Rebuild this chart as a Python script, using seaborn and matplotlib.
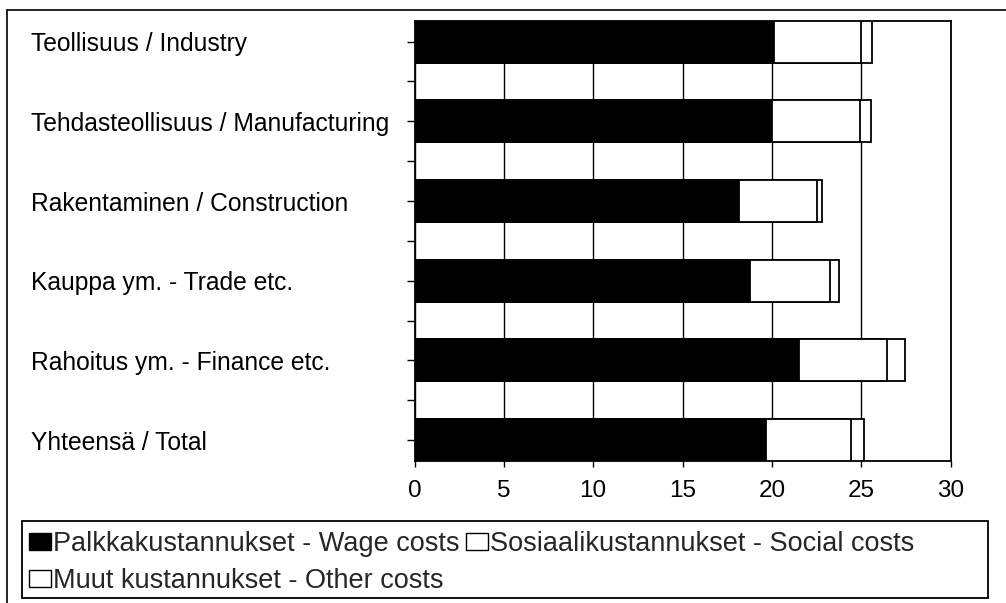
import matplotlib
matplotlib.use("Agg")
import matplotlib.pyplot as plt
from matplotlib.patches import Patch, Rectangle
from matplotlib.lines import Line2D
from matplotlib.ticker import FixedLocator
import seaborn as sns
import pandas as pd
import numpy as np

categories = ["Teollisuus / Industry",
              "Tehdasteollisuus / Manufacturing",
              "Rakentaminen / Construction",
              "Kauppa ym. - Trade etc.",
              "Rahoitus ym. - Finance etc.",
              "Yhteensä / Total"]
wage = [20.1, 20.0, 18.15, 18.75, 21.5, 19.7]
social = [4.9, 4.95, 4.35, 4.5, 4.95, 4.75]
other = [0.6, 0.6, 0.3, 0.5, 1.0, 0.7]
series_labels = ["Palkkakustannukset - Wage costs",
                 "Sosiaalikustannukset - Social costs",
                 "Muut kustannukset - Other costs"]
xticks = [0, 5, 10, 15, 20, 25, 30]

sns.set_style("white")
plt.rcParams["font.family"] = ["Liberation Sans", "DejaVu Sans"]

df = pd.DataFrame({"cat": categories, "wage": wage, "social": social, "other": other})
df["ws"] = df["wage"] + df["social"]
df["total"] = df["ws"] + df["other"]

W, H = 1006, 603
fig = plt.figure(figsize=(W / 100, H / 100), dpi=100)
ax = fig.add_axes([414.5 / W, 1 - 461 / H, (950.5 - 414.5) / W, (461 - 20.7) / H])

bw = 0.525
common = dict(y="cat", orient="h", width=bw, edgecolor="black", linewidth=1.3,
              saturation=1, ax=ax, zorder=3)
sns.barplot(data=df, x="total", color="white", **common)
sns.barplot(data=df, x="ws", color="white", **common)
sns.barplot(data=df, x="wage", color="black", **common)

ax.set_xlabel("")
ax.set_ylabel("")
ax.set_xlim(0, 30)
ax.set_ylim(len(categories) - 1 + bw / 2, -bw / 2)
ax.set_xticks(xticks)
ax.set_xticklabels([str(t) for t in xticks], fontsize=17.5)
ax.xaxis.grid(True, color="black", linewidth=1.0, zorder=0)
ax.yaxis.grid(False)
ax.set_axisbelow(True)

for s in ax.spines.values():
    s.set_color("black")
    s.set_linewidth(1.3)
    s.set_visible(True)

ax.set_yticks(range(len(categories)))
ax.yaxis.set_minor_locator(FixedLocator(np.arange(0.5, len(categories) - 1, 1.0)))
ax.tick_params(axis="y", which="both", direction="out", length=6, width=1,
               color="black", left=True)
ax.tick_params(axis="x", direction="out", length=4.5, width=1, color="black",
               bottom=True, pad=9.5, labelcolor="black")
ax.set_yticklabels(categories, fontsize=17.7, color="black")
ticklen_px = 6 / 72 * 100
pad_pt = (414.5 - ticklen_px - 31) * 0.72
ax.tick_params(axis="y", pad=pad_pt)
for lbl in ax.get_yticklabels():
    lbl.set_horizontalalignment("left")

# page frame lines
fig.add_artist(Line2D([7 / W, 1.0], [1 - 10 / H, 1 - 10 / H], transform=fig.transFigure,
                      color="black", linewidth=1.2))
fig.add_artist(Line2D([7 / W, 7 / W], [0, 1 - 10 / H], transform=fig.transFigure,
                      color="black", linewidth=1.2))

# legend box
fig.add_artist(Rectangle((22 / W, 1 - 598 / H), (988 - 22) / W, (598 - 521) / H,
                         transform=fig.transFigure, facecolor="none",
                         edgecolor="black", linewidth=1.3))

handles = [Patch(facecolor="black", edgecolor="black", label=series_labels[0]),
           Patch(facecolor="white", edgecolor="black", label=series_labels[2]),
           Patch(facecolor="white", edgecolor="black", label=series_labels[1])]
fig.legend(handles=handles, loc="upper left", bbox_to_anchor=(29 / W, 1 - 531 / H),
           ncol=2, frameon=False, fontsize=19.5, handlelength=0.8, handleheight=0.6,
           handletextpad=0.08, columnspacing=0.25, labelspacing=0.4, borderpad=0,
           borderaxespad=0)

fig.savefig("out.png", dpi=100)
